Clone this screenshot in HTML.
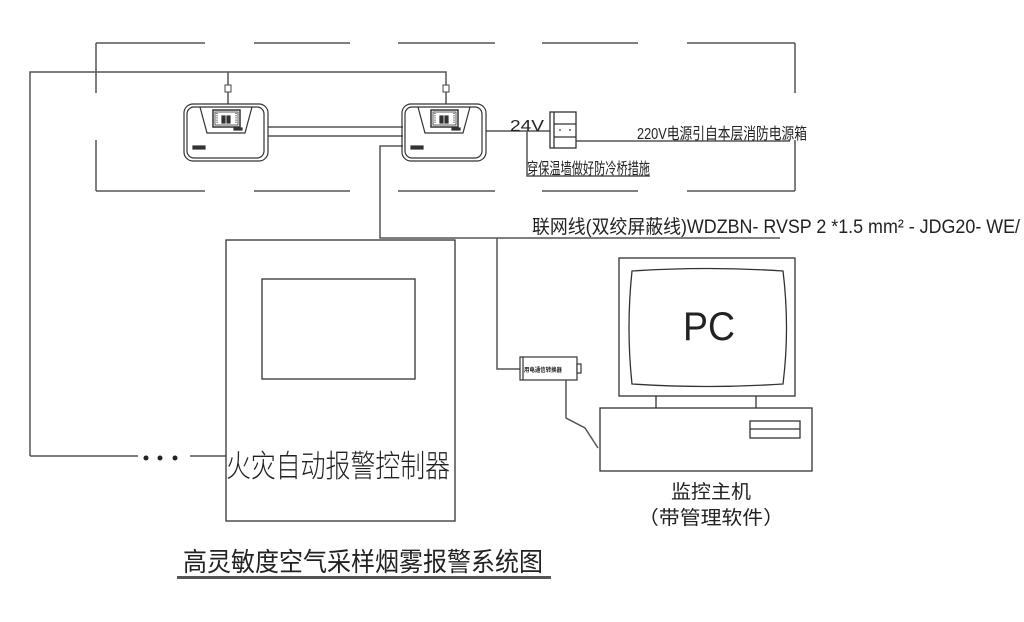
<!DOCTYPE html>
<html><head><meta charset="utf-8"><style>
html,body{margin:0;padding:0;background:#fff;}
svg{display:block;}
text{font-family:"Liberation Sans","Noto Sans CJK SC",sans-serif;fill:#222;}
</style></head><body>
<svg width="1024" height="622" viewBox="0 0 1024 622" xmlns="http://www.w3.org/2000/svg">
<defs>
<g id="mod" fill="none" stroke="#333" stroke-width="1.2">
<rect x="0" y="0" width="84" height="57" rx="9"/>
<rect x="3" y="3" width="77" height="51" rx="7"/>
<path d="M16 3 L23 29 L61 29 L68 3"/>
<rect x="29" y="6" width="27" height="17" stroke-width="1.5"/>
<rect x="31" y="8" width="23" height="13" stroke-width="0.8"/>
<path d="M33 9V20M52 9V20" stroke-dasharray="1,1.2" stroke-width="1.2"/>
<rect x="38" y="12" width="3" height="3" fill="#333"/><rect x="43" y="12" width="3" height="3" fill="#333"/>
<rect x="38" y="16" width="3" height="3" fill="#333"/><rect x="43" y="16" width="3" height="3" fill="#333"/>
<rect x="50" y="24" width="8" height="2" fill="#333"/>
<rect x="9" y="42" width="12" height="3" fill="#333"/>
</g>
</defs>
<g stroke="#555" stroke-width="1.5" fill="none">
<path d="M96 43H205M254 43H350M398 43H495M542 43H638M687 43H795"/>
<path d="M96 191H205M254 191H350M398 191H495M542 191H638M687 191H795"/>
<path d="M96 43V93M96 140V191M795 43V93M795 140V191"/>
<path d="M30 456V72H446V104M228 72V104"/>
<path d="M30 456H138M190 456H226"/>
<path d="M268 127H403M268 136H403"/>
<path d="M486 131H550M527 131V176H650M576 141H790"/>
<path d="M403 146H380V238H780M497 238V369H520"/>
<path d="M566 380V418L585 428L598 448"/>
</g>
<g fill="#fff" stroke="#444" stroke-width="1"><rect x="225" y="85" width="6" height="7"/><rect x="443" y="85" width="6" height="7"/></g>
<use href="#mod" x="184" y="104"/>
<use href="#mod" x="402" y="104"/>
<g fill="none" stroke="#333" stroke-width="1.3">
<rect x="550" y="112" width="26" height="36"/>
<path d="M554 112V148M554 124H576M554 137H576"/>
</g>
<circle cx="560" cy="130" r="0.9" fill="#333"/><circle cx="570" cy="130" r="0.9" fill="#333"/>
<text x="510" y="131" font-size="16" textLength="34" lengthAdjust="spacingAndGlyphs">24V</text>
<text x="637" y="139" font-size="16" textLength="170" lengthAdjust="spacingAndGlyphs">220V电源引自本层消防电源箱</text>
<text x="527" y="174" font-size="16" textLength="123" lengthAdjust="spacingAndGlyphs">穿保温墙做好防冷桥措施</text>
<text x="532" y="233" font-size="19" textLength="488" lengthAdjust="spacingAndGlyphs">联网线(双绞屏蔽线)WDZBN- RVSP  2 *1.5 mm²  - JDG20- WE/</text>
<g fill="none" stroke="#333" stroke-width="1.3">
<rect x="226" y="240" width="229" height="281"/>
<rect x="262" y="279" width="153" height="100"/>
</g>
<circle cx="146" cy="458" r="2.5" fill="#222"/><circle cx="160" cy="458" r="2.5" fill="#222"/><circle cx="175" cy="458" r="2.5" fill="#222"/>
<text x="226" y="477" font-size="31" textLength="224" lengthAdjust="spacingAndGlyphs" style="font-weight:300">火灾自动报警控制器</text>
<g fill="#fff" stroke="#333" stroke-width="1.2">
<rect x="520" y="357" width="57" height="23"/>
<path d="M523 357V380"/>
<rect x="577" y="364" width="4" height="9"/>
</g>
<text x="524" y="372" font-size="6" font-weight="bold" textLength="38" lengthAdjust="spacingAndGlyphs">用电通信转换器</text>
<g fill="none" stroke="#333" stroke-width="1.3">
<rect x="619" y="258" width="176" height="138"/>
<path d="M632 271Q708 266 783 271Q790 328 783 384Q708 389 632 384Q626 328 632 271Z"/>
<path d="M656 396V408M756 396V408"/>
<rect x="600" y="408" width="212" height="63"/>
<rect x="750" y="421" width="50" height="17"/>
<path d="M750 429H800"/>
</g>
<text x="683" y="340" font-size="40" textLength="52" lengthAdjust="spacingAndGlyphs" style="font-weight:300">PC</text>
<text x="671" y="498" font-size="19" textLength="80" lengthAdjust="spacingAndGlyphs">监控主机</text>
<text x="638" y="524" font-size="19" textLength="146" lengthAdjust="spacingAndGlyphs">（带管理软件）</text>
<text x="183" y="571" font-size="26" textLength="360" lengthAdjust="spacingAndGlyphs">高灵敏度空气采样烟雾报警系统图</text>
<rect x="177" y="576" width="374" height="3" fill="#555"/>
</svg>
</body></html>
